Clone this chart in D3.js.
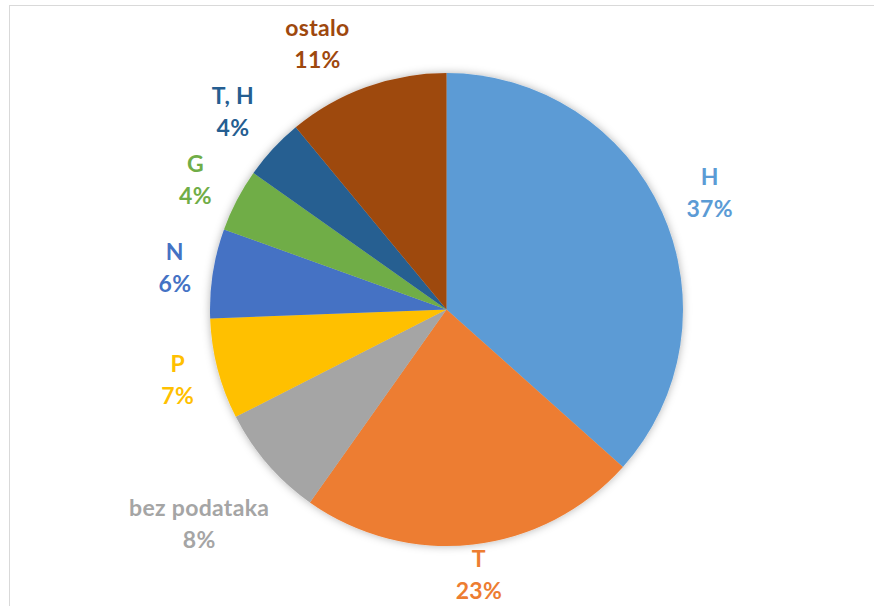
<!DOCTYPE html>
<html><head><meta charset="utf-8">
<script src="https://cdn.jsdelivr.net/npm/d3@7"></script>
<style>html,body{margin:0;padding:0;background:#fff;overflow:hidden}svg{display:block}</style>
</head><body>
<script>
const categories = ["H", "T", "bez podataka", "P", "N", "G", "T, H", "ostalo"];
const values = [36.6, 23.2, 7.7, 6.9, 6.1, 4.3, 4.2, 11.0];
const colors = ["#5B9BD5", "#ED7D31", "#A5A5A5", "#FFC000", "#4472C4", "#70AD47", "#255E91", "#9E480E"];

const W = 874, H = 606;
const cx = 446.5, cy = 309.5, R = 236.5;
const gap = 19, boundTop = 13, boundBottom = 604, lineGap = 32;

const svg = d3.select("body").append("svg").attr("width", W).attr("height", H);
const defs = svg.append("defs");
const f = defs.append("filter").attr("id", "sh").attr("x", "-20%").attr("y", "-20%").attr("width", "140%").attr("height", "140%");
f.append("feDropShadow").attr("dx", 0).attr("dy", 0).attr("stdDeviation", 4).attr("flood-color", "#000").attr("flood-opacity", 0.3);

svg.append("rect").attr("x", 9.5).attr("y", 5.5).attr("width", W + 10).attr("height", H + 10)
  .attr("fill", "#fff").attr("stroke", "#d9d9d9").attr("stroke-width", 1);

const pie = d3.pie().sort(null).value(d => d)(values);
const arc = d3.arc().innerRadius(0).outerRadius(R);

const g = svg.append("g").attr("transform", `translate(${cx},${cy})`);
g.append("g").attr("filter", "url(#sh)").selectAll("path").data(pie).join("path")
  .attr("d", arc).attr("fill", (d, i) => colors[i]);

const lg = svg.append("g");
pie.forEach((d, i) => {
  const t = lg.append("text")
    .attr("font-family", "Lato, 'Open Sans', sans-serif")
    .attr("font-weight", 700).attr("font-size", 23).attr("letter-spacing", 0.3)
    .attr("fill", colors[i]).attr("text-anchor", "middle");
  t.append("tspan").attr("x", 0).attr("y", -lineGap / 2).attr("dominant-baseline", "central").text(categories[i]);
  t.append("tspan").attr("x", 0).attr("y", lineGap / 2).attr("dominant-baseline", "central").text(Math.round(values[i]) + "%");
  const bb = t.node().getBBox();
  const hw = bb.width / 2, hh = bb.height / 2;
  const mid = (d.startAngle + d.endAngle) / 2;
  const sx = Math.sin(mid), sy = -Math.cos(mid);
  const minDist = (x, y) => {
    const nx = Math.max(x - hw, Math.min(0, x + hw));
    const ny = Math.max(y - hh, Math.min(0, y + hh));
    return Math.hypot(nx, ny);
  };
  let lo = 0, hi = R * 2;
  for (let k = 0; k < 60; k++) {
    const m = (lo + hi) / 2;
    if (minDist(m * sx, m * sy) < R + gap) lo = m; else hi = m;
  }
  let x = hi * sx, y = hi * sy;
  // keep inside chart area
  let clamped = false;
  if (cy + y - hh < boundTop) { y = boundTop + hh - cy; clamped = true; }
  if (cy + y + hh > boundBottom) { y = boundBottom - hh - cy; clamped = true; }
  if (clamped) {
    const dir = x < 0 ? -1 : 1;
    let nx = x, steps = 0;
    while (minDist(nx, y) < R + gap && steps < 400) { nx += dir * 0.5; steps++; }
    if (Math.abs(nx - x) <= 40) x = nx;
  }
  t.attr("transform", `translate(${cx + x},${cy + y})`);
});
</script>
</body></html>
